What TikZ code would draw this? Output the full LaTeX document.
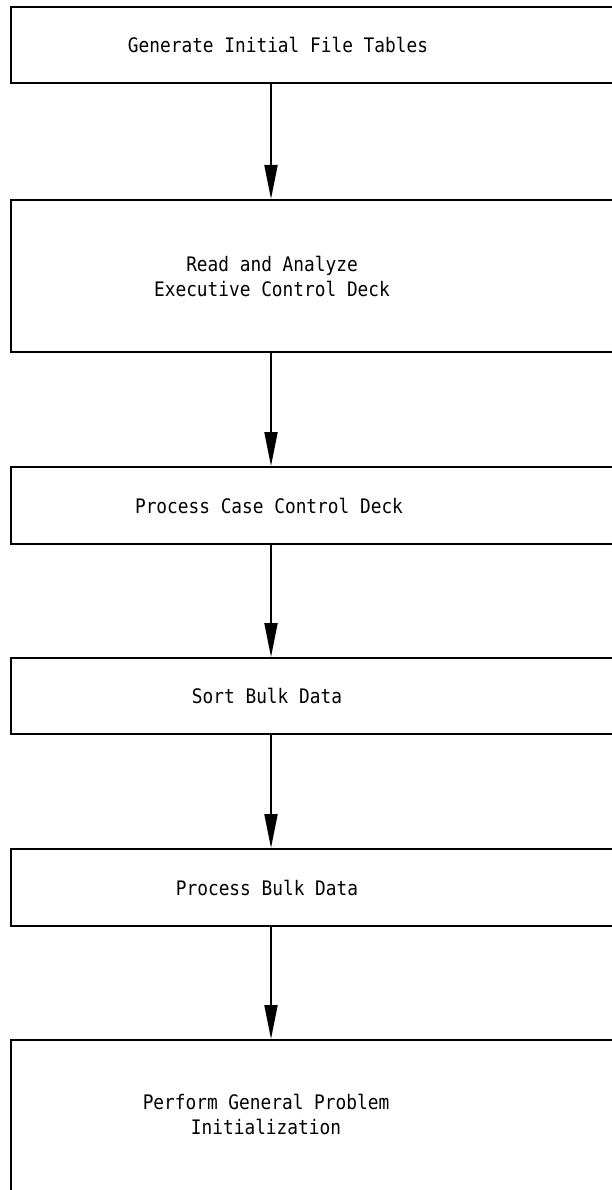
\documentclass[tikz,border=0pt]{standalone}
\usepackage{fontspec}
\newfontfamily\lpfont[FakeStretch=0.89]{DejaVu Sans Mono}
\usetikzlibrary{arrows.meta}

\begin{document}
\begin{tikzpicture}[x=1pt,y=-1pt,
	box/.style={draw,line width=2pt,minimum width=629pt,inner sep=0pt},
	boxtext/.style={font=\lpfont\fontsize{20}{25}\selectfont,align=center,inner sep=0pt},
	flow/.style={line width=2pt,-{Triangle[length=34pt,width=13pt]}}]
	\useasboundingbox (0,0) rectangle (612,1190);
	\clip (0,0) rectangle (612,1190);
	\node[box,minimum height=76pt] (gen) at (325.5,45) {};
	\node[box,minimum height=152pt] (read) at (325.5,276) {};
	\node[box,minimum height=77pt] (case) at (325.5,505.5) {};
	\node[box,minimum height=76pt] (sort) at (325.5,696) {};
	\node[box,minimum height=77pt] (bulk) at (325.5,887.5) {};
	\node[box,minimum height=170pt] (init) at (325.5,1125) {};
	\node[boxtext] (gentext) at (278,45) {Generate Initial File Tables};
	\node[boxtext] (readtext) at (272,276) {Read and Analyze\\Executive Control Deck};
	\node[boxtext] (casetext) at (269,505.5) {Process Case Control Deck};
	\node[boxtext] (sorttext) at (267,696) {Sort Bulk Data};
	\node[boxtext] (bulktext) at (267,887.5) {Process Bulk Data};
	\node[boxtext] (inittext) at (266,1114) {Perform General Problem\\Initialization};
	\coordinate (ax) at (271,0);
	\draw[flow] (gen.south -| ax) -- (read.north -| ax);
	\draw[flow] (read.south -| ax) -- (case.north -| ax);
	\draw[flow] (case.south -| ax) -- (sort.north -| ax);
	\draw[flow] (sort.south -| ax) -- (bulk.north -| ax);
	\draw[flow] (bulk.south -| ax) -- (init.north -| ax);
\end{tikzpicture}
\end{document}
